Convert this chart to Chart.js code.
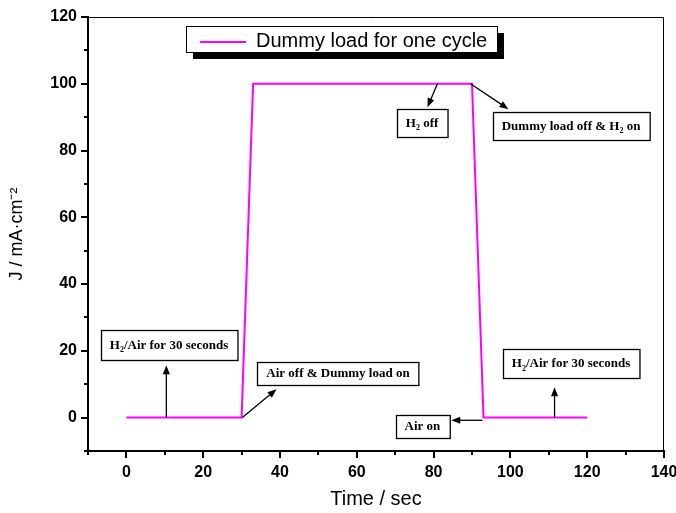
<!DOCTYPE html>
<html>
<head>
<meta charset="utf-8">
<title>Dummy load cycle</title>
<script src="https://cdn.jsdelivr.net/npm/chart.js@4.4.1/dist/chart.umd.min.js"></script>
<style>
    html, body { margin: 0; padding: 0; background: #fff; }
    #wrap { width: 676px; height: 513px; }
</style>
</head>
<body>
<div id="wrap"><canvas id="cycleChart"></canvas></div>
<script>
// one load cycle: time (s) vs current density (mA/cm2)
const timeSec = [0, 30, 33, 90, 93, 120];
const currentDensity = [0, 0, 100, 100, 0, 0];
const seriesLabel = 'Dummy load for one cycle';

const xTickValues = [0, 20, 40, 60, 80, 100, 120, 140];
const yTickValues = [0, 20, 40, 60, 80, 100, 120];
const xMinorTicks = [-10, 10, 30, 50, 70, 90, 110, 130];
const yMinorTicks = [-10, 10, 30, 50, 70, 90, 110];

// callouts: text ("_2" = subscript 2), box centre and arrow in data units
const callouts = [
    { text: 'H_2 off', at: [77.0, 88.2], h: 28, arrow: [[81.0, 100], [78.4, 93.0]] },
    { text: 'Dummy load off & H_2 on', at: [115.8, 87.3], h: 28, arrow: [[89.6, 100], [99.5, 92.4]] },
    { text: 'H_2/Air for 30 seconds', at: [11.1, 21.7], h: 30, arrow: [[10.4, 0], [10.4, 15.7]] },
    { text: 'Air off & Dummy load on', at: [55.1, 13.2], h: 23, arrow: [[30.2, 0], [39.1, 8.5]] },
    { text: 'Air on', at: [77.1, -2.8], h: 23, arrow: [[92.7, -0.8], [84.6, -0.8]] },
    { text: 'H_2/Air for 30 seconds', at: [115.8, 16.2], h: 29, arrow: [[111.5, 0], [111.5, 9.1]] }
];

const SERIF = 'bold 13px "Liberation Serif", "Times New Roman", serif';
const SUB = 'bold 8px "Liberation Serif", "Times New Roman", serif';

function splitParts(text) {
    const parts = [];
    text.split('_').forEach((chunk, i) => {
        if (i === 0) { parts.push({ s: chunk, sub: false }); return; }
        parts.push({ s: chunk.charAt(0), sub: true });
        parts.push({ s: chunk.slice(1), sub: false });
    });
    return parts.filter(p => p.s.length);
}

function measureParts(ctx, parts) {
    let w = 0;
    parts.forEach(p => {
        ctx.font = p.sub ? SUB : SERIF;
        w += ctx.measureText(p.s).width;
    });
    return w;
}

function drawArrow(ctx, x1, y1, x2, y2) {
    const ang = Math.atan2(y2 - y1, x2 - x1);
    const len = 9, half = 3.5;
    ctx.beginPath();
    ctx.moveTo(x1, y1);
    ctx.lineTo(x2 - Math.cos(ang) * len * 0.8, y2 - Math.sin(ang) * len * 0.8);
    ctx.stroke();
    ctx.beginPath();
    ctx.moveTo(x2, y2);
    ctx.lineTo(x2 - Math.cos(ang) * len + Math.sin(ang) * half, y2 - Math.sin(ang) * len - Math.cos(ang) * half);
    ctx.lineTo(x2 - Math.cos(ang) * len - Math.sin(ang) * half, y2 - Math.sin(ang) * len + Math.cos(ang) * half);
    ctx.closePath();
    ctx.fill();
}

const framePlugin = {
    id: 'frame',
    afterDatasetsDraw(chart) {
        const ctx = chart.ctx;
        const a = chart.chartArea;
        const xs = chart.scales.x, ys = chart.scales.y;
        ctx.save();

        // thin top and right border
        ctx.strokeStyle = '#000';
        ctx.lineWidth = 1;
        ctx.beginPath();
        ctx.moveTo(a.left, a.top + 0.5);
        ctx.lineTo(a.right - 0.5, a.top + 0.5);
        ctx.lineTo(a.right - 0.5, a.bottom);
        ctx.stroke();

        // outward tick marks on the bottom and left axes
        ctx.lineWidth = 2;
        ctx.beginPath();
        xTickValues.forEach(v => {
            const px = Math.round(xs.getPixelForValue(v));
            ctx.moveTo(px, a.bottom); ctx.lineTo(px, a.bottom + 7);
        });
        xMinorTicks.forEach(v => {
            const px = Math.round(xs.getPixelForValue(v));
            ctx.moveTo(px, a.bottom); ctx.lineTo(px, a.bottom + 4);
        });
        yTickValues.forEach(v => {
            const py = Math.round(ys.getPixelForValue(v));
            ctx.moveTo(a.left, py); ctx.lineTo(a.left - 7, py);
        });
        yMinorTicks.forEach(v => {
            const py = Math.round(ys.getPixelForValue(v));
            ctx.moveTo(a.left, py); ctx.lineTo(a.left - 4, py);
        });
        ctx.stroke();

        // callout boxes with arrows
        ctx.lineWidth = 1.3;
        ctx.fillStyle = '#000';
        callouts.forEach(c => {
            const parts = splitParts(c.text);
            const tw = measureParts(ctx, parts);
            const bw = tw + 18;
            const cx = xs.getPixelForValue(c.at[0]);
            const cy = ys.getPixelForValue(c.at[1]);
            const bx = Math.round(cx - bw / 2) + 0.5;
            const by = Math.round(cy - c.h / 2) + 0.5;
            ctx.fillStyle = '#fff';
            ctx.fillRect(bx, by, bw, c.h);
            ctx.strokeRect(bx, by, bw, c.h);
            ctx.fillStyle = '#000';
            let tx = cx - tw / 2;
            parts.forEach(p => {
                ctx.font = p.sub ? SUB : SERIF;
                ctx.textBaseline = 'middle';
                ctx.fillText(p.s, tx, cy + (p.sub ? 5 : 0));
                tx += ctx.measureText(p.s).width;
            });
            const [p1, p2] = c.arrow;
            ctx.lineWidth = 1.3;
            drawArrow(ctx,
                xs.getPixelForValue(p1[0]), ys.getPixelForValue(p1[1]),
                xs.getPixelForValue(p2[0]), ys.getPixelForValue(p2[1]));
        });

        // legend box with drop shadow
        const ds = chart.data.datasets[0];
        const lx = a.left + 98, ly = a.top + 9, lw = 311, lh = 26;
        ctx.fillStyle = '#000';
        ctx.fillRect(lx + 7, ly + 7, lw, lh);
        ctx.fillStyle = '#fff';
        ctx.fillRect(lx, ly, lw, lh);
        ctx.lineWidth = 1;
        ctx.strokeStyle = '#000';
        ctx.strokeRect(lx + 0.5, ly + 0.5, lw, lh);
        ctx.strokeStyle = ds.borderColor;
        ctx.lineWidth = 2;
        ctx.beginPath();
        ctx.moveTo(lx + 14, ly + 16);
        ctx.lineTo(lx + 60, ly + 16);
        ctx.stroke();
        ctx.fillStyle = '#000';
        ctx.font = '20px "Liberation Sans", Arial, sans-serif';
        ctx.textBaseline = 'middle';
        ctx.fillText(ds.label, lx + 70, ly + 15);

        ctx.restore();
    }
};

const ctx = document.getElementById('cycleChart').getContext('2d');
new Chart(ctx, {
    type: 'line',
    data: {
        datasets: [{
            label: seriesLabel,
            data: timeSec.map((t, i) => ({ x: t, y: currentDensity[i] })),
            borderColor: '#ff00ff',
            borderWidth: 2,
            pointRadius: 0,
            tension: 0,
            fill: false
        }]
    },
    options: {
        responsive: true,
        maintainAspectRatio: false,
        animation: false,
        layout: { padding: { top: 17, right: 12, left: 0, bottom: 0 } },
        plugins: {
            legend: { display: false },
            tooltip: { enabled: false }
        },
        scales: {
            x: {
                type: 'linear',
                min: -10,
                max: 140,
                afterBuildTicks: scale => { scale.ticks = xTickValues.map(v => ({ value: v })); },
                afterFit: scale => {
                    scale.height = 62;
                    scale.paddingLeft = 0;
                    scale.paddingRight = 0;
                },
                grid: { display: false },
                border: { display: true, color: '#000', width: 2 },
                ticks: {
                    color: '#000',
                    padding: 4,
                    maxRotation: 0,
                    font: { family: '"Liberation Sans", Arial, sans-serif', size: 16, weight: 'bold' }
                },
                title: {
                    display: true,
                    text: 'Time / sec',
                    color: '#000',
                    font: { family: '"Liberation Sans", Arial, sans-serif', size: 20 },
                    padding: { top: 4, bottom: 2 }
                }
            },
            y: {
                type: 'linear',
                min: -10,
                max: 120,
                afterBuildTicks: scale => { scale.ticks = yTickValues.map(v => ({ value: v })); },
                afterFit: scale => {
                    scale.width = 88;
                    scale.paddingTop = 0;
                    scale.paddingBottom = 0;
                },
                grid: { display: false },
                border: { display: true, color: '#000', width: 2 },
                ticks: {
                    color: '#000',
                    padding: 3,
                    font: { family: '"Liberation Sans", Arial, sans-serif', size: 16, weight: 'bold' }
                },
                title: {
                    display: true,
                    text: 'J / mA·cm⁻²',
                    color: '#000',
                    font: { family: '"Liberation Sans", Arial, sans-serif', size: 18 },
                    padding: { top: 6, bottom: 4 }
                }
            }
        }
    },
    plugins: [framePlugin]
});
</script>
</body>
</html>
